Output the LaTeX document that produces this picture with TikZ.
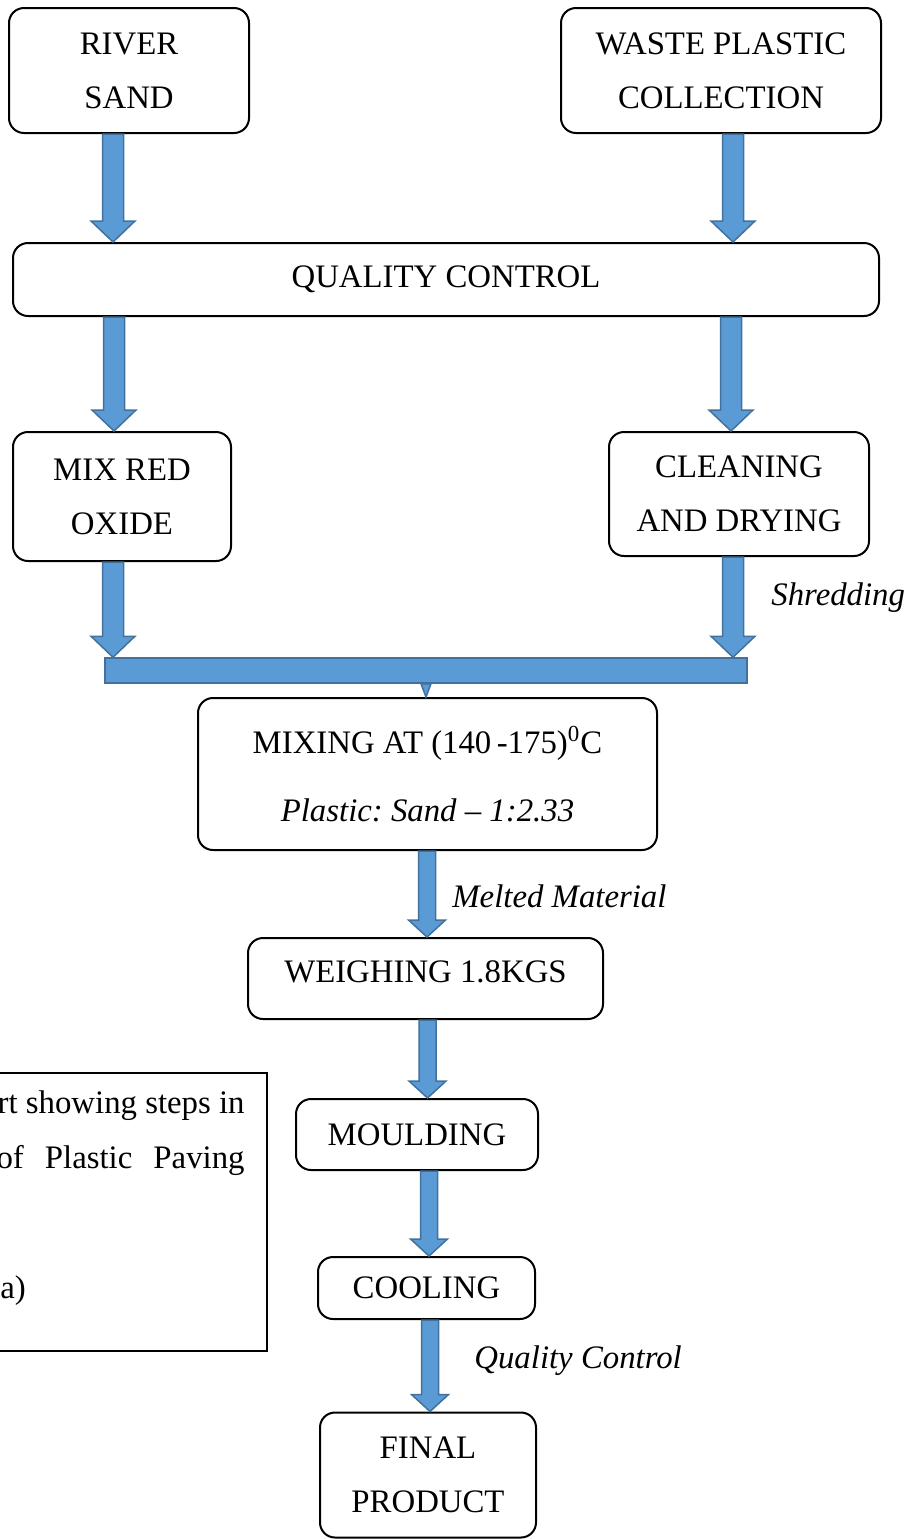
\documentclass[tikz,border=0pt]{standalone}
\usepackage{fontspec}
\setmainfont{Liberation Serif}
\usetikzlibrary{calc}
\definecolor{flowblue}{HTML}{5B9BD5}
\definecolor{flowedge}{HTML}{41719C}
\frenchspacing
\begin{document}
\begin{tikzpicture}
  [x=0.5pt,y=-0.5pt,
   stage/.style={draw,line width=1pt,rounded corners=7.5pt,align=center,inner sep=0pt,
     font=\fontsize{16.4}{27}\selectfont},
   flow/.style={fill=flowblue,draw=flowedge,line width=0.75pt},
   note/.style={font=\fontsize{16.4}{27}\selectfont,inner sep=0pt},
   step label/.style={font=\fontsize{16.4}{27}\selectfont\itshape,inner sep=0pt}]
  \useasboundingbox (0,0) rectangle (906,1539);

  \node[stage,minimum width=120pt,minimum height=62.5pt] (rsand) at (129,70.5) {RIVER\\SAND};
  \node[stage,minimum width=160pt,minimum height=62.5pt] (wplastic) at (721,70.5) {WASTE PLASTIC\\COLLECTION};
  \node[stage,minimum width=433pt,minimum height=36.5pt] (qc) at (446,279.5) {QUALITY CONTROL};
  \node[stage,minimum width=109pt,minimum height=64.5pt] (redox) at (122,496.5) {MIX RED\\OXIDE};
  \node[stage,minimum width=130pt,minimum height=62pt] (clean) at (739,494) {CLEANING\\AND DRYING};
  \node[flow,minimum width=321pt,minimum height=12.5pt,inner sep=0pt] (bar) at (426,670.5) {};
  \node[stage,minimum width=229.5pt,minimum height=76pt] (mixing) at (427.5,774)
    {MIXING AT (140\,-175)\textsuperscript{0}C\\[7pt]\textit{Plastic: Sand -- 1:2.33}};
  \node[stage,minimum width=177.5pt,minimum height=40.5pt,text depth=7pt] (weigh) at (425.5,978.5) {WEIGHING 1.8KGS};
  \node[stage,minimum width=121pt,minimum height=35.5pt] (mould) at (417,1134.5) {MOULDING};
  \node[stage,minimum width=108.5pt,minimum height=31pt] (cool) at (426.5,1288) {COOLING};
  \node[stage,minimum width=108pt,minimum height=62.5pt] (final) at (428,1475) {FINAL\\PRODUCT};

  % side note, cut at the left edge
  \draw[line width=0.75pt] (-5,1073) rectangle (267,1351);
  \node[note,anchor=base east] (note1) at (245,1113) {rt showing steps in};
  \node[note,anchor=base east] (note2) at (245,1168) {\makebox[124pt][s]{of Plastic Paving}};
  \node[note,anchor=base west] (note3) at (0,1298) {a)};

  % big arrows
  \foreach \src/\dst/\ax in {rsand/qc/113,wplastic/qc/733,qc/redox/114,qc/clean/731,redox/bar/113,clean/bar/733}
    \filldraw[flow] let \p1=(\src.south), \p2=(\dst.north), \p3=(\ax,0) in
      (\x3-5.25pt,\y1) -- (\x3+5.25pt,\y1) -- (\x3+5.25pt,\y2+10.5pt) -- (\x3+11pt,\y2+10.5pt)
      -- (\x3,\y2) -- (\x3-11pt,\y2+10.5pt) -- (\x3-5.25pt,\y2+10.5pt) -- cycle;

  % small arrows
  \foreach \src/\dst/\ax in {mixing/weigh/427,weigh/mould/427.5,mould/cool/429,cool/final/430}
    \filldraw[flow] let \p1=(\src.south), \p2=(\dst.north), \p3=(\ax,0) in
      (\x3-4.25pt,\y1) -- (\x3+4.25pt,\y1) -- (\x3+4.25pt,\y2+8.5pt) -- (\x3+9.25pt,\y2+8.5pt)
      -- (\x3,\y2) -- (\x3-9.25pt,\y2+8.5pt) -- (\x3-4.25pt,\y2+8.5pt) -- cycle;

  \filldraw[flow] let \p1=(bar.south), \p2=(mixing.north) in
    (\x1-2.5pt,\y1) -- (\x1+2.5pt,\y1) -- (\x1,\y2) -- cycle;

  \node[step label,anchor=base west] (shred) at (771,605) {Shredding};
  \node[step label,anchor=base west] (melted) at (452,907) {Melted Material};
  \node[step label,anchor=base west] (qcheck) at (474,1368) {Quality Control};

\end{tikzpicture}
\end{document}
